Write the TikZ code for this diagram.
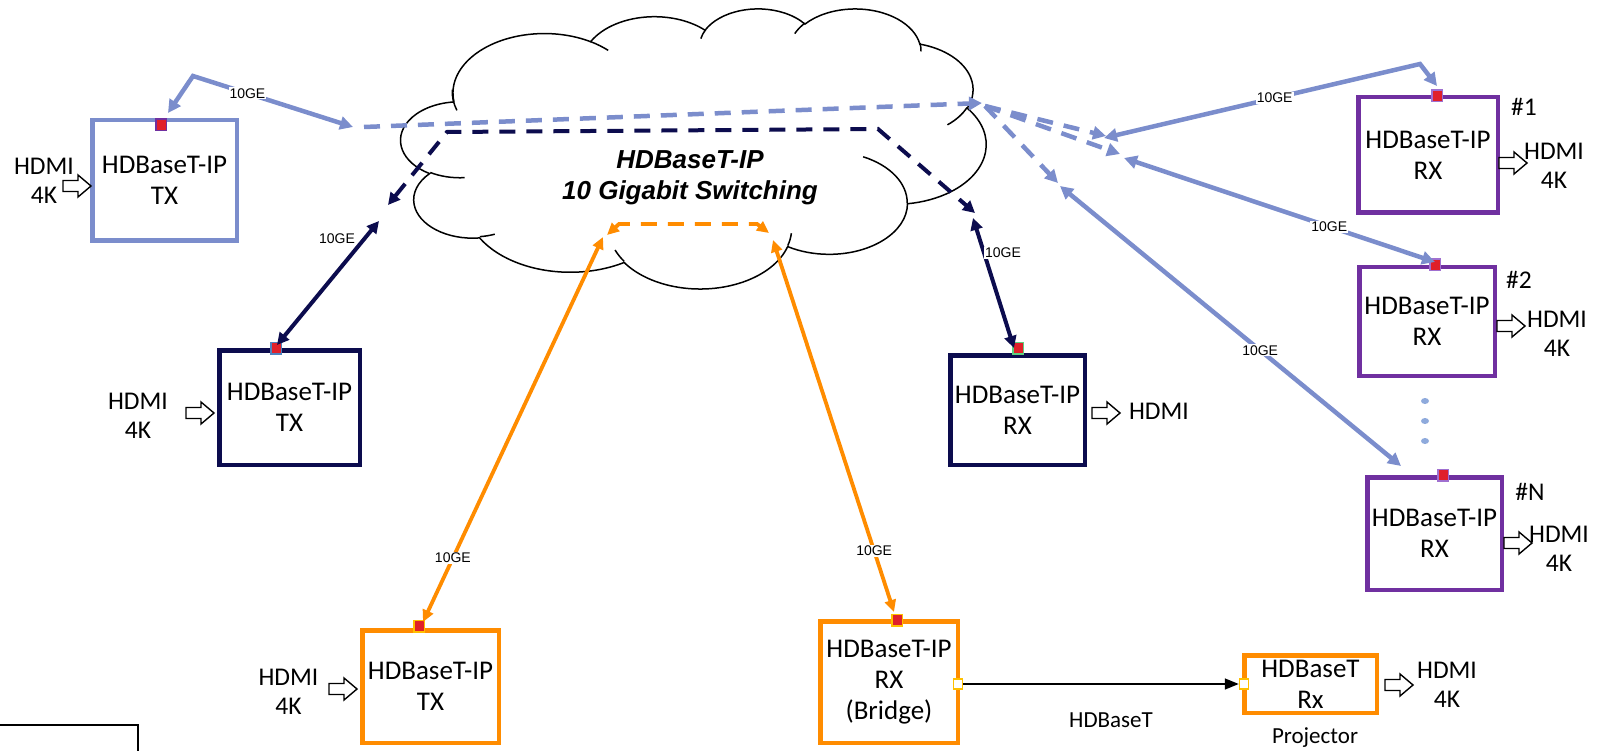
\documentclass[tikz,border=0pt]{standalone}
\usepackage{fontspec}
\setmainfont{Carlito}
\newfontfamily\arialf{Liberation Sans}
\usetikzlibrary{arrows.meta}
\definecolor{lblue}{HTML}{7B8DCC}
\definecolor{navyc}{HTML}{0C0C4E}
\definecolor{purp}{HTML}{7030A0}
\definecolor{orng}{HTML}{FF8C00}
\definecolor{portred}{HTML}{E0202A}
\definecolor{dotc}{HTML}{8FAADC}
\definecolor{pbA}{HTML}{7030A0}
\definecolor{pbB}{HTML}{4F81BD}
\definecolor{pbC}{HTML}{5FD080}
\definecolor{pbD}{HTML}{A070D0}
\definecolor{pbE}{HTML}{FFC000}
\newcommand\boxfont{\fontsize{27}{31}\selectfont}
\newcommand\hdmifont{\fontsize{25.5}{29}\selectfont}
\newcommand\gefont{\arialf\fontsize{14}{16}\selectfont}
\newcommand\cloudfont{\arialf\bfseries\itshape\fontsize{26}{31}\selectfont}
\newcommand\smallfont{\fontsize{23}{27}\selectfont}
\newcommand\cldX{401}
\newcommand\cldY{8}
\newcommand\cldW{585}
\newcommand\cldH{280}
\newcommand\cldmove[2]{%
 \pgfmathsetmacro\cldpx{\cldX+#1/43.2*\cldW}%
 \pgfmathsetmacro\cldpy{0-(\cldY+#2/43.2*\cldH)}%
 \pgfpathmoveto{\pgfpoint{\cldpx pt}{\cldpy pt}}}
\newcommand\cldarc[4]{%
 \pgfmathsetmacro\cldta{atan2(#1*sin(#3),#2*cos(#3))}%
 \pgfmathsetmacro\cldtb{atan2(#1*sin(#3+#4),#2*cos(#3+#4))}%
 \pgfmathsetmacro\cldtd{mod(\cldtb-\cldta+720,360)}%
 \pgfmathsetmacro\cldrx{#1/43.2*\cldW}%
 \pgfmathsetmacro\cldry{#2/43.2*\cldH}%
 \pgfmathsetmacro\cldsa{0-(\cldta)}%
 \pgfmathsetmacro\cldea{0-(\cldta)-(\cldtd)}%
 \pgfpatharc{\cldsa}{\cldea}{\cldrx pt and \cldry pt}}
\tikzset{
 box/.style={draw, line width=4.5pt, fill=white, align=center, font=\boxfont, inner sep=0pt},
 port/.style={fill=portred, line width=1.5pt, minimum width=10.5pt, minimum height=11.5pt, inner sep=0pt},
 wport/.style={fill=white, draw=pbE, line width=1.5pt, minimum width=9pt, minimum height=10pt, inner sep=0pt},
 hdmiarrow/.pic={\draw[black, fill=white, line width=1.4pt, line join=miter]
   (0,-5.5) -- (15,-5.5) -- (15,-11) -- (28,0) -- (15,11) -- (15,5.5) -- (0,5.5) -- cycle;},
 hdmitext/.style={align=center, font=\hdmifont, inner sep=0pt},
 numtext/.style={font=\hdmifont, inner sep=0pt},
 lbl/.style={fill=white, font=\gefont, inner sep=1pt},
 lbline/.style={draw=lblue, line width=4.5pt, >={Triangle[length=13pt,width=13pt]}},
 nvline/.style={draw=navyc, line width=4pt, >={Triangle[length=12pt,width=12pt]}},
 orline/.style={draw=orng, line width=3.8pt, >={Triangle[length=12pt,width=11pt]}},
 dsh/.style={dash pattern=on 16pt off 11pt},
 cloudtext/.style={align=center, font=\cloudfont, inner sep=0pt},
 plain/.style={font=\smallfont, inner sep=0pt}
}
\begin{document}
\begin{tikzpicture}[x=1pt,y=-1pt]
\useasboundingbox (0,0) rectangle (1598,751);
\clip (0,0) rectangle (1598,751);
% cloud
\begin{scope}
\pgfsetlinewidth{1.5pt}
\pgfsetstrokecolor{black}
\pgfsetfillcolor{white}
\cldmove{3.900}{14.370}
\cldarc{6.753}{9.190}{-190.48748}{123.78053}
\cldarc{5.333}{7.267}{-144.10238}{89.94523}
\cldarc{4.365}{5.945}{-145.80792}{99.72302}
\cldarc{4.857}{6.595}{-130.98607}{117.24173}
\cldarc{5.333}{7.273}{-78.70888}{109.02692}
\cldarc{6.775}{9.220}{-46.26725}{130.269}
\cldarc{5.785}{7.867}{0.62502}{114.03333}
\cldarc{6.752}{9.215}{22.4516}{115.17255}
\cldarc{7.720}{10.543}{66.24263}{75.71102}
\cldarc{4.360}{5.918}{-274.94208}{146.73557}
\cldarc{4.345}{5.945}{-246.8285}{152.51885}
\pgfpathclose
\pgfusepath{fill,stroke}
\cldmove{4.693}{26.177}\cldarc{4.345}{5.945}{86.742}{26.4295}
\cldmove{6.928}{34.899}\cldarc{4.360}{5.918}{73.61047}{11.44747}
\cldmove{16.478}{39.090}\cldarc{6.752}{9.215}{137.62415}{14.0811}
\cldmove{28.827}{34.751}\cldarc{6.752}{9.215}{6.45327}{15.99835}
\cldmove{34.129}{22.954}\cldarc{5.785}{7.867}{-70.29235}{70.91737}
\cldmove{41.798}{15.354}\cldarc{5.333}{7.273}{30.31803}{27.7515}
\cldmove{38.324}{5.426}\cldarc{4.857}{6.595}{-13.74433}{14.8589}
\cldmove{29.078}{3.952}\cldarc{4.857}{6.595}{-149.18145}{18.19537}
\cldmove{22.141}{4.720}\cldarc{4.365}{5.945}{-163.49427}{17.68635}
\cldmove{14.000}{5.192}\cldarc{6.753}{9.190}{-66.70695}{12.31935}
\cldmove{4.127}{15.789}\cldarc{6.753}{9.190}{155.63533}{26.80185}
\pgfusepath{stroke}
\end{scope}
\node[cloudtext] (cloudlbl) at (690,178) {HDBaseT-IP\\10 Gigabit Switching};

% boxes
\node[box,draw=lblue,minimum width=144.5pt,minimum height=120.5pt] (tx1) at (164.5,180.5) {HDBaseT-IP\\TX};
\node[box,draw=navyc,minimum width=140.5pt,minimum height=114.5pt] (tx2) at (289.5,407.5) {HDBaseT-IP\\TX};
\node[box,draw=navyc,minimum width=134.5pt,minimum height=109.5pt] (rxn) at (1017.5,410) {HDBaseT-IP\\RX};
\node[box,draw=purp,minimum width=139.5pt,minimum height=115.5pt] (rx1) at (1428,155) {HDBaseT-IP\\RX};
\node[box,draw=purp,minimum width=135.5pt,minimum height=108.5pt] (rx2) at (1427,321.5) {HDBaseT-IP\\RX};
\node[box,draw=purp,minimum width=134.5pt,minimum height=112.5pt] (rxN) at (1434.5,533.5) {HDBaseT-IP\\RX};
\node[box,draw=orng,minimum width=136.5pt,minimum height=112.5pt] (tx3) at (430.5,686.5) {HDBaseT-IP\\TX};
\node[box,draw=orng,minimum width=137.5pt,minimum height=121.5pt] (br) at (889,682) {HDBaseT-IP\\RX\\(Bridge)};
\node[box,draw=orng,minimum width=132.5pt,minimum height=57.5pt] (pj) at (1310.5,684) {HDBaseT\\Rx};

% ports
\node[port,draw=pbA] (tx1p) at (161,125) {};
\node[port,draw=pbB] (tx2p) at (276,348) {};
\node[port,draw=pbC] (rxnp) at (1018,348) {};
\node[port,draw=pbD] (rx1p) at (1437,96) {};
\node[port,draw=pbD] (rx2p) at (1435,265) {};
\node[port,draw=pbD] (rxNp) at (1443,475) {};
\node[port,draw=pbE] (tx3p) at (419,626) {};
\node[port,draw=pbE] (brp) at (897,620) {};
\node[wport] (bro) at (958,684) {};
\node[wport] (pji) at (1244,684) {};

% HDMI arrows and labels
\pic at (63,186) {hdmiarrow};
\node[hdmitext] (h1) at (44,180.5) {HDMI\\4K};
\pic at (186,413) {hdmiarrow};
\node[hdmitext] (h2) at (138,415.5) {HDMI\\4K};
\pic at (1092,413) {hdmiarrow};
\node[hdmitext] (h3) at (1159,411) {HDMI};
\pic at (1499,163) {hdmiarrow};
\node[hdmitext] (h4) at (1554,165.5) {HDMI\\4K};
\pic at (1497,326) {hdmiarrow};
\node[hdmitext] (h5) at (1557,334) {HDMI\\4K};
\pic at (1504,543) {hdmiarrow};
\node[hdmitext] (h6) at (1559,548.5) {HDMI\\4K};
\pic at (329,689) {hdmiarrow};
\node[hdmitext] (h7) at (288.5,691.5) {HDMI\\4K};
\pic at (1385,685) {hdmiarrow};
\node[hdmitext] (h8) at (1447,685) {HDMI\\4K};

\node[numtext] (n1) at (1524,107) {\#1};
\node[numtext] (n2) at (1519,280) {\#2};
\node[numtext] (n3) at (1530,492) {\#N};

\fill[dotc] (1425,401) ellipse [x radius=4, y radius=3];
\fill[dotc] (1425,421) ellipse [x radius=4, y radius=3];
\fill[dotc] (1425,441) ellipse [x radius=4, y radius=3];

% coordinates
\coordinate (tx1in) at (168,113);
\coordinate (tx1c) at (193,76);
\coordinate (lbA) at (353,127);
\coordinate (lbB) at (364,127);
\coordinate (sw1) at (982,103);
\coordinate (fo) at (985,106);
\coordinate (fa) at (1106,136);
\coordinate (fb) at (1120,154);
\coordinate (fc) at (1058,183);
\coordinate (ra) at (1104,138);
\coordinate (rac) at (1420,64);
\coordinate (rain) at (1437,86);
\coordinate (rb) at (1124,158);
\coordinate (rbin) at (1435,262);
\coordinate (rc) at (1060,186);
\coordinate (rcin) at (1401,466);
\coordinate (nd1) at (388,205);
\coordinate (ndc1) at (447,132);
\coordinate (ndc2) at (878,129);
\coordinate (nd2) at (975,213);
\coordinate (ns1) at (379,221);
\coordinate (tx2in) at (277,345);
\coordinate (ns2) at (973,218);
\coordinate (rxin) at (1014,348);
\coordinate (od1) at (607,235);
\coordinate (odc1) at (619,224);
\coordinate (odc2) at (757,224);
\coordinate (od2) at (769,233);
\coordinate (os1) at (603,237);
\coordinate (tx3in) at (423,622);
\coordinate (os2) at (773,240);
\coordinate (brin) at (894,612);

% light blue links
\draw[lbline,<->] (tx1in) -- (tx1c) -- node[lbl,pos=0.34] (ge1) {10GE} (lbA);
\draw[lbline,dsh,->] (lbB) -- (sw1);
\draw[lbline,dsh,->] (fo) -- (fa);
\draw[lbline,dsh,->] (fo) -- (fb);
\draw[lbline,dsh,->] (fo) -- (fc);
\draw[lbline,<->] (ra) -- node[lbl,pos=0.54] (ge2) {10GE} (rac) -- (rain);
\draw[lbline,<->] (rb) -- node[lbl,pos=0.66] (ge3) {10GE} (rbin);
\draw[lbline,<->] (rc) -- node[lbl,pos=0.587] (ge4) {10GE} (rcin);

% navy links
\draw[nvline,dsh,<->] (nd1) -- (ndc1) -- (ndc2) -- (nd2);
\draw[nvline,<->] (ns1) -- (tx2in);
\draw[nvline,<->] (ns2) -- (rxin);
\node[lbl] (ge5) at (337,239) {10GE};
\node[lbl] (ge6) at (1003,253) {10GE};

% orange links
\draw[orline,dsh,<->] (od1) -- (odc1) -- (odc2) -- (od2);
\draw[orline,<->] (os1) -- node[lbl,pos=0.834] (ge7) {10GE} (tx3in);
\draw[orline,<->] (os2) -- node[lbl,pos=0.836] (ge8) {10GE} (brin);

% HDBaseT link
\draw[line width=1.5pt,-{Triangle[length=14pt,width=11pt]}] (bro.east) -- (pji.west);
\node[plain] (hdbl) at (1111,720) {HDBaseT};
\node[plain] (pjl) at (1315,738) {Projector};

% bottom-left frame
\draw[line width=1.5pt] (-10,725) rectangle (138,780);
\end{tikzpicture}
\end{document}
